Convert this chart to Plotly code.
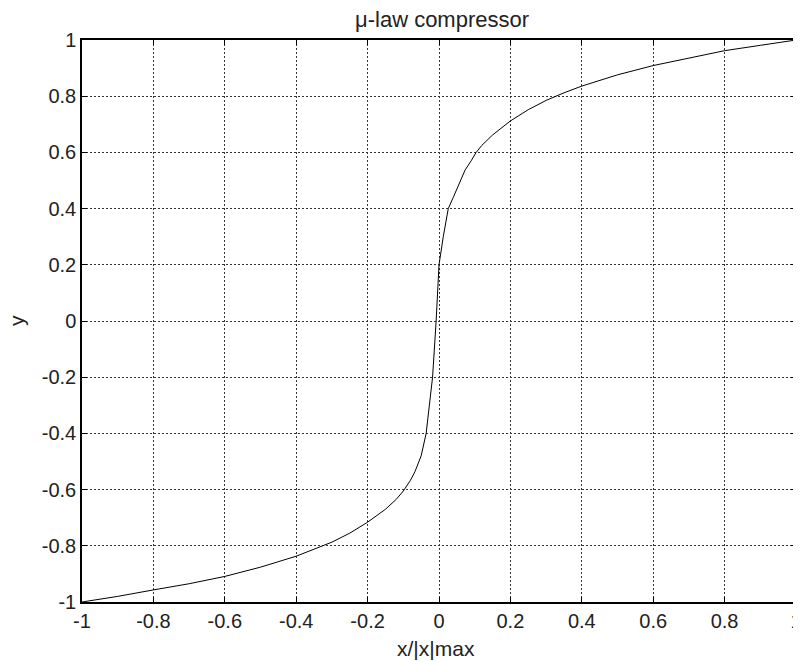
import plotly.graph_objects as go

# Values
x_vals = [-1.0, -0.9, -0.8, -0.7, -0.6, -0.5, -0.4, -0.3, -0.25, -0.2, -0.15, -0.12,
          -0.1, -0.08, -0.067, -0.05, -0.036, -0.026, -0.018, -0.008,
          0.0, 0.012, 0.026, 0.04, 0.05, 0.06, 0.073, 0.09, 0.104, 0.12, 0.15,
          0.2, 0.25, 0.3, 0.35, 0.4, 0.5, 0.6, 0.7, 0.8, 0.9, 1.0]
y_vals = [-1.0, -0.98, -0.957, -0.935, -0.909, -0.876, -0.837, -0.787, -0.755, -0.716, -0.67, -0.635,
          -0.605, -0.567, -0.535, -0.48, -0.4, -0.3, -0.2, 0.0,
          0.2, 0.3, 0.4, 0.44, 0.47, 0.5, 0.537, 0.57, 0.6, 0.625, 0.662,
          0.712, 0.752, 0.785, 0.812, 0.836, 0.876, 0.909, 0.936, 0.962, 0.981, 1.0]

x_ticks = [-1, -0.8, -0.6, -0.4, -0.2, 0, 0.2, 0.4, 0.6, 0.8, 1]
x_tick_text = ["-1", "-0.8", "-0.6", "-0.4", "-0.2", "0", "0.2", "0.4", "0.6", "0.8", "1"]
y_ticks = [-1, -0.8, -0.6, -0.4, -0.2, 0, 0.2, 0.4, 0.6, 0.8, 1]
y_tick_text = ["-1", "-0.8", "-0.6", "-0.4", "-0.2", "0", "0.2", "0.4", "0.6", "0.8", "1"]

title_text = "μ-law compressor"
x_title = "x/|x|max"
y_title = "y"

# page offset from the default body margin of the HTML page
OFF = 8
W, H = 801 - OFF, 661 - OFF
PLOT_L, PLOT_R, PLOT_T, PLOT_B = 82, 796, 40, 602   # plot area in page pixels
L, T = PLOT_L - OFF, PLOT_T - OFF
R, B = (OFF + W) - PLOT_R, (OFF + H) - PLOT_B
PW, PH = PLOT_R - PLOT_L, PLOT_B - PLOT_T

fig = go.Figure()
fig.add_trace(go.Scatter(x=x_vals, y=y_vals, mode="lines",
                         line=dict(color="black", width=1), showlegend=False))

font_family = "Liberation Sans, Arial, sans-serif"
txt_color = "#222222"
axis_common = dict(
    showline=True, linecolor="black", linewidth=1.5, mirror="ticks",
    ticks="inside", ticklen=5, tickcolor="black", tickwidth=1,
    showgrid=True, gridcolor="#333333", gridwidth=1, griddash="2px,2px",
    zeroline=False, automargin=False, ticklabeloverflow="allow",
    tickfont=dict(family=font_family, size=20, color=txt_color),
)

fig.update_layout(
    width=W, height=H,
    margin=dict(l=L, r=R, t=T, b=B),
    paper_bgcolor="white", plot_bgcolor="white",
    xaxis=dict(range=[-1, 1], tickvals=x_ticks, ticktext=x_tick_text, **axis_common),
    yaxis=dict(range=[-1, 1], tickvals=y_ticks, ticktext=y_tick_text, **axis_common),
    annotations=[
        dict(text=title_text, xref="paper", yref="paper",
             x=(442 - PLOT_L) / PW, y=(PLOT_B - 19) / PH, xanchor="center", yanchor="middle",
             showarrow=False, font=dict(family=font_family, size=22, color=txt_color)),
        dict(text=x_title, xref="paper", yref="paper",
             x=(435.5 - PLOT_L) / PW, y=(PLOT_B - 648) / PH, xanchor="center", yanchor="middle",
             showarrow=False, font=dict(family=font_family, size=21, color=txt_color)),
        dict(text=y_title, xref="paper", yref="paper", textangle=-90,
             x=(16 - PLOT_L) / PW, y=(PLOT_B - 321) / PH, xanchor="center", yanchor="middle",
             showarrow=False, font=dict(family=font_family, size=21, color=txt_color)),
    ],
)

fig.write_html("out.html")
